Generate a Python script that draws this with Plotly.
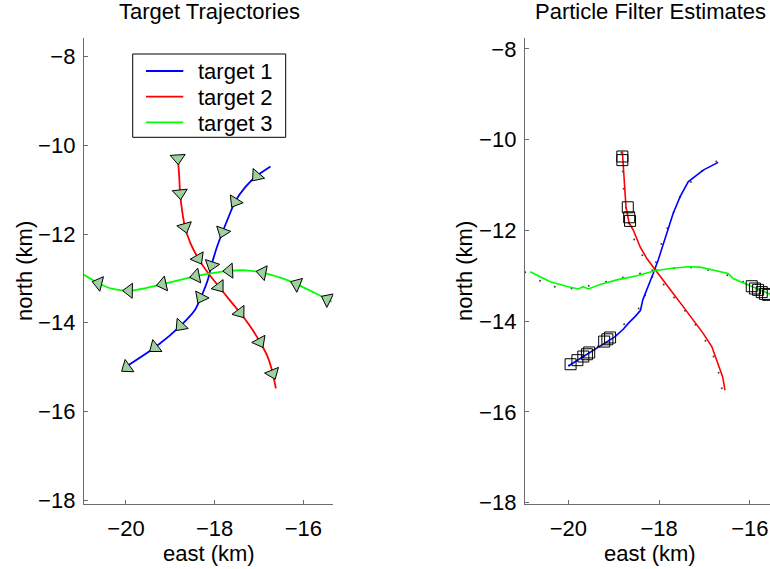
import math
import plotly.graph_objects as go

# ---------------- data (km) ----------------
# true trajectories (left panel lines)
t1_x = [-19.98, -19.35, -18.77, -18.45, -18.31, -18.15, -18.07, -17.95, -17.82, -17.68, -17.54, -17.30, -17.05, -16.74]
t1_y = [-14.98, -14.56, -14.07, -13.72, -13.43, -13.02, -12.70, -12.30, -11.95, -11.60, -11.27, -10.93, -10.69, -10.48]
t2_x = [-18.83, -18.80, -18.78, -18.73, -18.67, -18.55, -18.37, -18.15, -17.90, -17.67, -17.43, -17.20, -16.98, -16.80, -16.69, -16.62]
t2_y = [-10.29, -10.70, -11.08, -11.50, -11.84, -12.20, -12.55, -12.88, -13.19, -13.48, -13.77, -14.08, -14.43, -14.78, -15.14, -15.48]
t3_x = [-15.36, -15.46, -15.80, -16.15, -16.50, -16.92, -17.30, -17.67, -18.05, -18.42, -18.80, -19.17, -19.55, -19.93, -20.30, -20.62, -20.95]
t3_y = [-13.53, -13.47, -13.30, -13.13, -12.99, -12.87, -12.82, -12.83, -12.88, -12.95, -13.04, -13.13, -13.22, -13.28, -13.24, -13.11, -12.92]

# triangle marker positions (ordered in pointing direction)
m1_x = [-17.05, -17.54, -17.82, -18.07, -18.31, -18.77, -19.35, -19.98]
m1_y = [-10.69, -11.27, -11.95, -12.70, -13.43, -14.07, -14.56, -15.01]
m2_x = [-18.83, -18.78, -18.67, -18.37, -17.90, -17.43, -16.98, -16.69]
m2_y = [-10.29, -11.08, -11.84, -12.55, -13.19, -13.77, -14.43, -15.14]
m3_x = [-15.46, -16.15, -16.92, -17.67, -18.42, -19.17, -19.93, -20.62]
m3_y = [-13.47, -13.13, -12.87, -12.83, -12.95, -13.13, -13.28, -13.11]

# particle filter estimates (right panel lines)
e1_x = [-20.00, -19.67, -19.30, -18.97, -18.79, -18.68, -18.53, -18.41, -18.36, -18.24, -18.13, -18.02, -17.91, -17.80, -17.69, -17.54, -17.36, -17.03, -16.70]
e1_y = [-14.99, -14.78, -14.56, -14.34, -14.18, -14.05, -13.90, -13.76, -13.53, -13.24, -12.95, -12.65, -12.32, -11.99, -11.62, -11.26, -10.93, -10.67, -10.50]
e2_x = [-18.81, -18.77, -18.73, -18.66, -18.57, -18.42, -18.27, -18.09, -17.91, -17.69, -17.47, -17.25, -17.03, -16.84, -16.70, -16.60, -16.55]
e2_y = [-10.26, -10.89, -11.48, -11.84, -11.99, -12.36, -12.62, -12.86, -13.09, -13.39, -13.68, -13.98, -14.27, -14.56, -14.93, -15.23, -15.52]
e3_x = [-20.84, -20.40, -20.04, -19.78, -19.67, -19.56, -19.30, -18.93, -18.49, -18.09, -17.76, -17.36, -17.10, -16.73, -16.48, -16.37, -16.04, -15.63, -15.33]
e3_y = [-12.91, -13.13, -13.23, -13.29, -13.24, -13.29, -13.19, -13.09, -13.00, -12.89, -12.84, -12.80, -12.81, -12.89, -12.95, -13.06, -13.20, -13.39, -13.50]

# initial estimate boxes
s_x = [-18.81, -18.81, -18.69, -18.66, -18.64,
       -19.95, -19.80, -19.67, -19.59, -19.54, -19.21, -19.14, -19.08,
       -15.96, -15.89, -15.82, -15.74, -15.67, -15.60]
s_y = [-10.37, -10.45, -11.49, -11.71, -11.79,
       -14.95, -14.86, -14.78, -14.73, -14.69, -14.45, -14.40, -14.36,
       -13.23, -13.28, -13.31, -13.36, -13.40, -13.42]

y_ticks = [-18, -16, -14, -12, -10, -8]
x_ticks = [-20, -18, -16]
names = ["target 1", "target 2", "target 3"]
colors = ["#0000ff", "#ff0000", "#00ff00"]

FONT = "Liberation Sans, Arial, Helvetica, sans-serif"
W, H = 770, 569


def headings(xs, ys):
    out = []
    n = len(xs)
    for i in range(n):
        a, b = max(i - 1, 0), min(i + 1, n - 1)
        out.append(math.degrees(math.atan2(xs[b] - xs[a], ys[b] - ys[a])))
    return out


fig = go.Figure()

# left panel lines
for xs, ys, nm, c in zip([t1_x, t2_x, t3_x], [t1_y, t2_y, t3_y], names, colors):
    fig.add_trace(go.Scatter(x=xs, y=ys, mode="lines", name=nm, showlegend=False,
                             line=dict(color=c, width=1.8, shape="spline", smoothing=0.6),
                             xaxis="x", yaxis="y"))
# left panel triangles
for xs, ys in zip([m1_x, m2_x, m3_x], [m1_y, m2_y, m3_y]):
    fig.add_trace(go.Scatter(x=xs, y=ys, mode="markers", showlegend=False,
                             marker=dict(symbol="triangle-up", size=13, color="#9fd09f",
                                         angle=headings(xs, ys),
                                         line=dict(color="black", width=1)),
                             xaxis="x", yaxis="y"))

# right panel: true positions as tiny dots
for xs, ys in zip([t1_x, t2_x, t3_x], [t1_y, t2_y, t3_y]):
    fig.add_trace(go.Scatter(x=xs, y=ys, mode="markers", showlegend=False,
                             marker=dict(size=2, color="#444444"),
                             xaxis="x2", yaxis="y2"))
# right panel estimates
for xs, ys, c in zip([e1_x, e2_x, e3_x], [e1_y, e2_y, e3_y], colors):
    fig.add_trace(go.Scatter(x=xs, y=ys, mode="lines", showlegend=False,
                             line=dict(color=c, width=1.6),
                             xaxis="x2", yaxis="y2"))
fig.add_trace(go.Scatter(x=s_x, y=s_y, mode="markers", showlegend=False,
                         marker=dict(symbol="square-open", size=11, color="black",
                                     line=dict(width=1)),
                         xaxis="x2", yaxis="y2"))

ydom = [1 - 504.4 / H, 1 - 38.1 / H]
axis_common = dict(showgrid=False, zeroline=False, showline=True, linecolor="#6b6b6b",
                   linewidth=1.3, ticks="inside", ticklen=4, tickcolor="#6b6b6b",
                   tickfont=dict(family=FONT, size=22, color="black"),
                   automargin=False)

fig.update_layout(
    width=W, height=H, margin=dict(l=0, r=0, t=0, b=0),
    paper_bgcolor="white", plot_bgcolor="white",
    font=dict(family=FONT, size=22, color="black"),
    xaxis=dict(domain=[84 / W, 333.3 / W], range=[-20.947, -15.324], tickvals=x_ticks,
               anchor="y", ticklabelstandoff=4, **axis_common),
    yaxis=dict(domain=ydom, range=[-18.097, -7.583], tickvals=y_ticks,
               anchor="x", ticklabelstandoff=3, **axis_common),
    xaxis2=dict(domain=[525 / W, 1.0], range=[-20.954, -15.558], tickvals=x_ticks,
                anchor="y2", ticklabelstandoff=4, **axis_common),
    yaxis2=dict(domain=ydom, range=[-18.04, -7.76], tickvals=y_ticks,
                anchor="x2", ticklabelstandoff=3, **axis_common),
    showlegend=False,
)

# legend box (left panel)
box_l, box_t, box_r, box_b = 132.7, 54.0, 285.7, 137.3
fig.add_shape(type="rect", xref="paper", yref="paper",
              x0=box_l / W, x1=box_r / W, y0=1 - box_b / H, y1=1 - box_t / H,
              line=dict(color="black", width=1), fillcolor="white", layer="above")
rows = [71.0, 96.7, 122.3]
for nm, c, ry in zip(names, colors, rows):
    fig.add_shape(type="line", xref="paper", yref="paper",
                  x0=146 / W, x1=183.3 / W, y0=1 - ry / H, y1=1 - ry / H,
                  line=dict(color=c, width=1.8), layer="above")
    fig.add_annotation(text=nm, x=196 / W, y=1 - (ry + 1) / H, xref="paper", yref="paper",
                       showarrow=False, xanchor="left", yanchor="middle",
                       font=dict(family=FONT, size=22, color="black"))

ann = [
    ("Target Trajectories", 209.5, 12, 0),
    ("Particle Filter Estimates", 650, 12, 0),
    ("east (km)", 208.7, 553, 0),
    ("east (km)", 650, 553, 0),
    ("north (km)", 24, 271, -90),
    ("north (km)", 464, 271, -90),
]
for txt, px, py, rot in ann:
    fig.add_annotation(text=txt, x=px / W, y=1 - py / H, xref="paper", yref="paper",
                       showarrow=False, xanchor="center", yanchor="middle",
                       textangle=rot, font=dict(family=FONT, size=22, color="black"))

fig.write_html("out.html")
